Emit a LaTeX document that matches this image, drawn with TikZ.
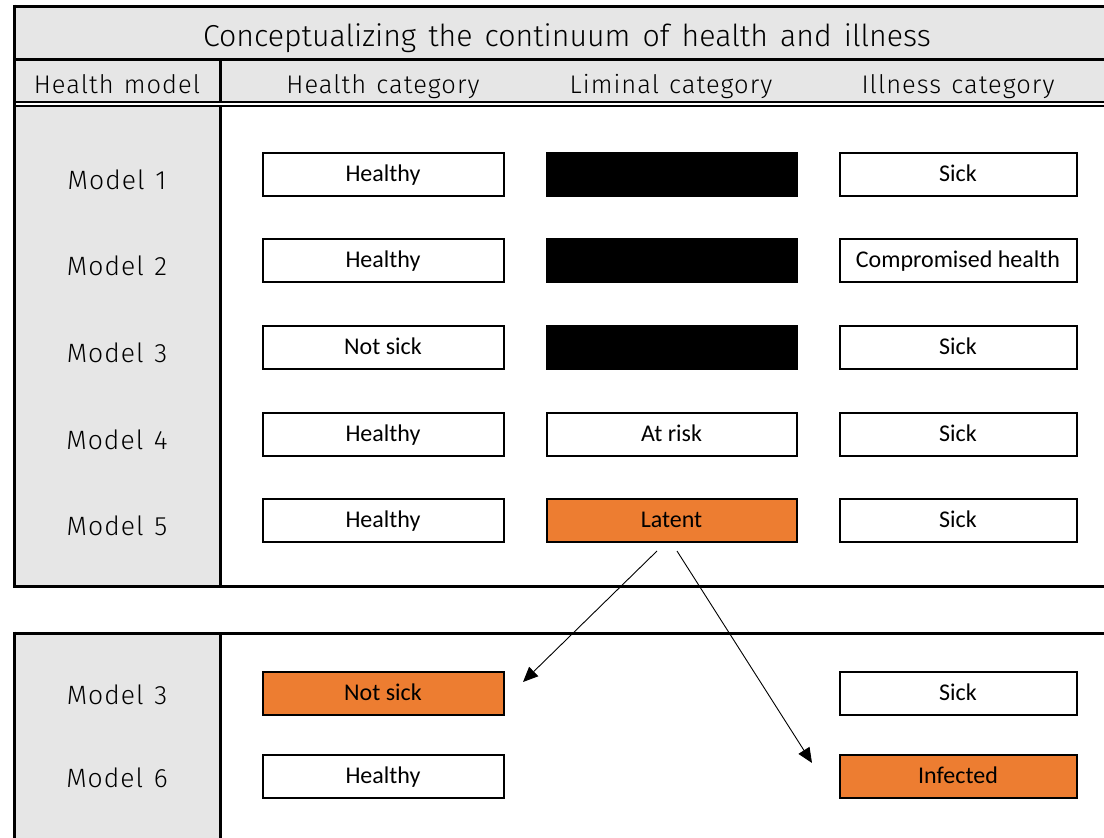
\documentclass[tikz,border=0pt]{standalone}
\usepackage{fontspec}
\setmainfont{Carlito}
\newfontfamily\labelsans{Fira Sans Light}
\newfontfamily\labelsanswide{Fira Sans Light}[LetterSpace=4]
\usetikzlibrary{arrows.meta}
\definecolor{hdrgray}{HTML}{E6E6E6}
\definecolor{accent}{HTML}{ED7D31}
\newcommand\wordgap{\spaceskip=0.4em plus 0.1em\relax}
\newcommand\titlefont{\labelsans\fontsize{30.3}{34}\selectfont\wordgap}
\newcommand\headfont{\labelsanswide\fontsize{25.5}{30}\selectfont\wordgap}
\newcommand\modelfont{\labelsanswide\fontsize{26.5}{30}\selectfont\wordgap}
\begin{document}
\begin{tikzpicture}[x=1pt,y=-1pt,
  tableline/.style={line width=3pt},
  thinrule/.style={line width=2pt},
  cellbox/.style={draw, line width=2pt, minimum height=43pt, inner sep=0pt,
    text height=15.5pt, text depth=0pt, font=\fontsize{24}{28}\selectfont},
  col1/.style={cellbox, minimum width=241pt},
  col2/.style={cellbox, minimum width=250pt},
  col3/.style={cellbox, minimum width=237pt},
  blank/.style={fill=black},
  hot/.style={fill=accent},
  titletext/.style={font=\titlefont, inner sep=0pt, anchor=base},
  headtext/.style={font=\headfont, inner sep=0pt, anchor=base},
  modeltext/.style={font=\modelfont, inner sep=0pt, anchor=base},
  link/.style={line width=0.9pt, -{Triangle[length=15pt,width=13pt]}}
]
\useasboundingbox (0,0) rectangle (1104,838);

% grey backgrounds
\fill[hdrgray] (14,6) rectangle (1104,102);
\fill[hdrgray] (14,106) rectangle (220,586);
\fill[hdrgray] (14,633) rectangle (220,838);

% upper table rules
\draw[tableline] (14,6) -- (1104,6);
\draw[tableline] (14,59) -- (1104,59);
\draw[thinrule] (14,101.5) -- (1104,101.5);
\draw[thinrule] (14,106) -- (1104,106);
\draw[tableline] (14,586) -- (1104,586);
\draw[tableline] (14,4.5) -- (14,587.5);
\draw[tableline] (220,59) -- (220,101.5);
\draw[tableline] (220,106) -- (220,586);

% lower table rules
\draw[tableline] (14,633) -- (1104,633);
\draw[tableline] (14,631.5) -- (14,838);
\draw[tableline] (220,633) -- (220,838);

% header texts
\node[titletext] (title) at (567,46) {Conceptualizing the continuum of health and illness};
\node[headtext] (hmodel) at (117,93) {Health model};
\node[headtext] (hhealth) at (383,93) {Health category};
\node[headtext] (hliminal) at (671,93) {Liminal category};
\node[headtext] (hillness) at (958,93) {Illness category};

% model labels
\node[modeltext] (m1) at (117,189) {Model 1};
\node[modeltext] (m2) at (117,275) {Model 2};
\node[modeltext] (m3) at (117,362) {Model 3};
\node[modeltext] (m4) at (117,449) {Model 4};
\node[modeltext] (m5) at (117,535) {Model 5};
\node[modeltext] (m3b) at (117,704) {Model 3};
\node[modeltext] (m6) at (117,787) {Model 6};

% category boxes, upper table
\node[col1] (h1) at (383,174) {Healthy};
\node[col2,blank] (l1) at (671.5,174) {};
\node[col3] (i1) at (958,174) {Sick};

\node[col1] (h2) at (383,260) {Healthy};
\node[col2,blank] (l2) at (671.5,260) {};
\node[col3] (i2) at (958,260) {Compromised health};

\node[col1] (h3) at (383,347) {Not sick};
\node[col2,blank] (l3) at (671.5,347) {};
\node[col3] (i3) at (958,347) {Sick};

\node[col1] (h4) at (383,434) {Healthy};
\node[col2] (l4) at (671.5,434) {At risk};
\node[col3] (i4) at (958,434) {Sick};

\node[col1] (h5) at (383,520) {Healthy};
\node[col2,hot] (l5) at (671.5,520) {Latent};
\node[col3] (i5) at (958,520) {Sick};

% category boxes, lower table
\node[col1,hot] (h6) at (383,693) {Not sick};
\node[col3] (i6) at (958,693) {Sick};
\node[col1] (h7) at (383,776) {Healthy};
\node[col3,hot] (i7) at (958,776) {Infected};

% arrows out of the latent category
\coordinate (splitL) at (657,551);
\coordinate (splitR) at (677,551);
\coordinate (toNotSick) at (523,682);
\coordinate (toInfected) at (812,763);
\draw[link] (splitL) -- (toNotSick);
\draw[link] (splitR) -- (toInfected);
\end{tikzpicture}
\end{document}
